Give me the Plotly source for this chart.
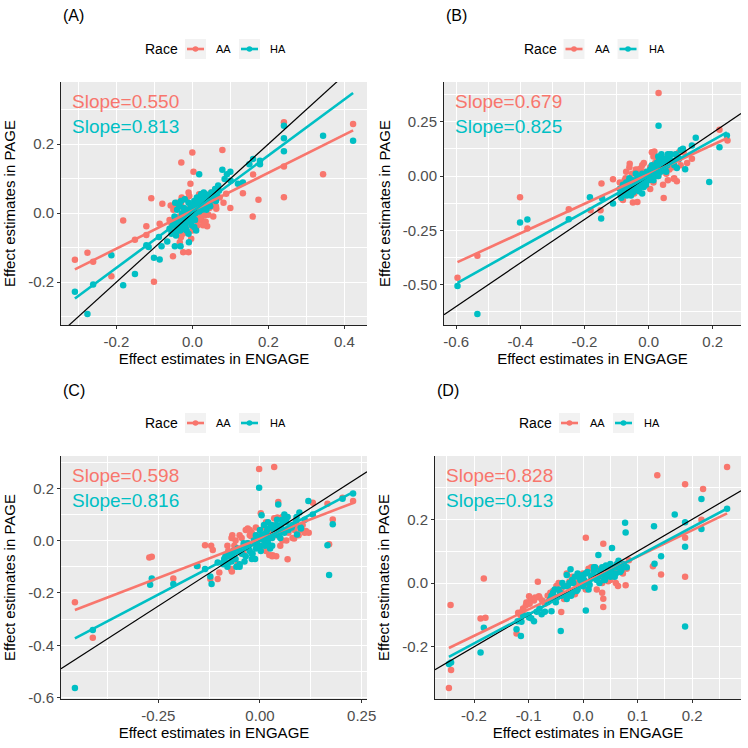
import math

import plotly.graph_objects as go
from plotly.subplots import make_subplots

RED = "#F8766D"
TEAL = "#00BFC4"

# ---- panel A ----
A_AA_x = [-0.309, -0.276, -0.261, -0.213, -0.182, -0.151, -0.121, -0.121, -0.108, -0.101, -0.086, -0.079,
          -0.051, -0.029, -0.057, -0.042, -0.033, -0.024, -0.010, -0.016, 0.000, 0.003, -0.005, -0.003,
          0.013, 0.024, 0.039, 0.032, 0.063, 0.079, 0.100, 0.089, 0.133, 0.159, 0.174, 0.160, 0.241,
          0.241, 0.241, 0.344, 0.423, -0.038,
          -0.06, -0.05, -0.045, -0.04, -0.035, -0.03, -0.025, -0.02, -0.015, -0.01, -0.005, 0.0, 0.005,
          0.01, 0.015, 0.02, 0.025, 0.03, 0.035, 0.04, 0.045, 0.05, 0.055, 0.06, -0.03, -0.01, 0.01,
          0.03, 0.05, 0.02,
          -0.045, -0.038, -0.028, -0.018, -0.008, 0.002, 0.012, 0.022, 0.032, 0.042, 0.052, 0.062, 0.072,
          0.082, -0.055, 0.018, 0.038, -0.022, 0.008, 0.028]
A_AA_y = [-0.135, -0.115, -0.141, -0.183, -0.021, -0.077, -0.038, -0.063, 0.043, -0.199, -0.031, 0.027,
          -0.125, 0.147, 0.022, -0.060, -0.084, -0.113, -0.113, 0.041, 0.176, 0.120, 0.085, -0.074,
          -0.036, -0.021, -0.038, -0.007, 0.013, 0.183, 0.015, 0.056, 0.058, -0.010, 0.039, 0.112, 0.046,
          0.135, 0.263, 0.113, 0.258, 0.017,
          -0.02, 0.01, -0.045, 0.03, -0.01, 0.025, -0.06, 0.04, 0.0, -0.03, 0.02, -0.05, 0.01,
          0.035, -0.02, 0.045, 0.0, 0.03, -0.025, 0.05, 0.015, 0.06, -0.01, 0.04, -0.07, 0.06, -0.04,
          0.055, 0.02, -0.015,
          0.02, -0.02, 0.045, -0.04, 0.05, 0.0, -0.01, 0.02, 0.05, -0.005, 0.035, 0.02, 0.045,
          0.03, -0.03, 0.055, 0.03, 0.01, 0.025, -0.035]
A_HA_x = [-0.309, -0.276, -0.261, -0.213, -0.182, -0.151, -0.115, -0.121, -0.101, -0.086, -0.088, -0.081,
          -0.066, -0.046, -0.031, -0.009, 0.018, 0.079, 0.091, 0.100, 0.085, 0.101, 0.133, 0.120, 0.150,
          0.160, 0.178, 0.178, 0.241, 0.241, 0.241, 0.344, 0.423,
          -0.06, -0.055, -0.05, -0.048, -0.045, -0.042, -0.04, -0.038, -0.035, -0.033, -0.03, -0.028,
          -0.025, -0.022, -0.02, -0.018, -0.015, -0.012, -0.01, -0.008, -0.005, -0.003, 0.0, 0.002, 0.005,
          0.008, 0.01, 0.012, 0.015, 0.018, 0.02, 0.022, 0.025, 0.028, 0.03, 0.033, 0.035, 0.038, 0.04,
          0.045, 0.05, 0.055, 0.06, 0.065, 0.07, -0.045, -0.03, -0.015, 0.005, 0.025,
          -0.052, -0.047, -0.043, -0.037, -0.032, -0.027, -0.023, -0.017, -0.013, -0.007, -0.002, 0.003,
          0.007, 0.013, 0.017, 0.023, 0.027, 0.032, 0.037, 0.042, 0.047, 0.052, 0.058, 0.062, 0.068,
          -0.02, -0.035, 0.01, -0.01, 0.03]
A_HA_y = [-0.228, -0.292, -0.207, -0.122, -0.209, -0.176, -0.098, -0.093, -0.129, -0.134, -0.069, -0.096,
          -0.082, -0.096, -0.096, -0.084, 0.113, 0.126, 0.113, 0.120, 0.099, 0.094, 0.089, 0.085, 0.142,
          0.157, 0.152, 0.142, 0.253, 0.217, 0.179, 0.224, 0.210,
          -0.045, -0.06, -0.03, -0.055, -0.02, -0.04, 0.01, -0.05, -0.025, 0.02, -0.035, -0.01,
          -0.045, 0.015, -0.02, -0.03, 0.005, -0.015, 0.03, -0.005, -0.025, 0.01, 0.02, -0.01, 0.035,
          0.0, 0.015, 0.045, 0.02, 0.005, 0.03, 0.04, 0.01, 0.05, 0.025, 0.035, 0.055, 0.02, 0.045,
          0.03, 0.06, 0.04, 0.07, 0.05, 0.065, 0.03, 0.035, -0.05, -0.04, 0.055,
          -0.035, -0.01, -0.065, -0.03, -0.05, 0.0, -0.028, -0.045, -0.008, 0.012, -0.035, 0.025,
          -0.02, 0.03, 0.01, 0.055, 0.02, 0.045, 0.01, 0.05, 0.02, 0.045, 0.055, 0.035, 0.08,
          0.04, 0.025, -0.05, -0.06, 0.06]

# ---- panel B ----
B_AA_x = [-0.596, -0.534, -0.401, -0.378, -0.249, -0.181, -0.150, -0.147, -0.111, -0.075, -0.059, -0.049,
          0.018, 0.031, 0.047, 0.078, 0.088, 0.093, 0.109, 0.135, 0.221, 0.246,
          -0.09, -0.085, -0.08, -0.07, -0.065, -0.06, -0.05, -0.04, -0.035, -0.03, -0.02, -0.01, 0.0,
          0.01, 0.015, 0.02, 0.03, 0.04, 0.05, 0.06, 0.07, 0.08, 0.085, 0.09, 0.1, -0.045, -0.025,
          0.025, 0.045, 0.065,
          -0.082, -0.072, -0.062, -0.052, -0.042, -0.032, -0.022, -0.012, 0.005, 0.025, 0.035, 0.055,
          0.075, 0.095, 0.12, 0.005, 0.045, 0.065, -0.015, 0.015]
B_AA_y = [-0.468, -0.367, -0.098, -0.242, -0.153, -0.157, -0.157, -0.035, -0.015, -0.021, 0.057, -0.122,
          0.113, 0.382, -0.101, -0.012, -0.024, 0.076, 0.110, 0.080, 0.213, 0.164,
          -0.03, -0.10, -0.11, 0.02, -0.06, 0.04, -0.02, 0.03, -0.12, 0.0, 0.05, -0.04, 0.02,
          0.11, -0.03, 0.06, 0.0, 0.09, 0.03, -0.02, 0.06, -0.01, 0.10, 0.08, 0.05, -0.08, 0.035,
          0.07, -0.04, 0.10,
          -0.05, -0.01, -0.08, 0.01, -0.04, 0.03, -0.02, 0.02, 0.04, 0.0, 0.06, 0.01,
          0.04, 0.11, 0.06, -0.06, 0.075, 0.03, 0.06, 0.09]
B_HA_x = [-0.596, -0.534, -0.401, -0.378, -0.249, -0.183, -0.148, -0.145, -0.111, 0.031, 0.189, 0.221,
          0.147, 0.135, 0.107, 0.114, 0.088, 0.244,
          -0.09, -0.085, -0.08, -0.075, -0.07, -0.065, -0.06, -0.055, -0.05, -0.045, -0.04, -0.035,
          -0.03, -0.025, -0.02, -0.015, -0.01, -0.005, 0.0, 0.005, 0.01, 0.015, 0.02, 0.025, 0.03, 0.035,
          0.04, 0.045, 0.05, 0.055, 0.06, 0.07, 0.08, 0.09, 0.1, -0.06, -0.04, -0.02, 0.01, 0.03, 0.05,
          0.02, 0.04, 0.015, 0.035,
          -0.088, -0.078, -0.068, -0.058, -0.048, -0.038, -0.028, -0.018, -0.008, 0.002, 0.008, 0.012,
          0.018, 0.022, 0.028, 0.032, 0.038, 0.042, 0.048, 0.052, 0.058, 0.065, 0.075, 0.085, 0.095,
          -0.03, 0.0, 0.03, 0.06, -0.07]
B_HA_y = [-0.506, -0.635, -0.214, -0.200, -0.199, -0.098, -0.196, -0.104, -0.127, 0.232, -0.028, 0.133,
          0.176, 0.140, 0.125, 0.031, 0.037, 0.187,
          -0.06, -0.10, -0.04, -0.08, -0.03, -0.07, -0.05, -0.09, -0.02, -0.06, -0.04, 0.0,
          -0.07, -0.03, 0.01, -0.05, -0.02, 0.02, -0.01, 0.03, 0.0, 0.04, 0.02, 0.06, 0.01, 0.05,
          0.08, 0.03, 0.06, 0.02, 0.07, 0.10, 0.05, 0.09, 0.12, -0.01, 0.01, -0.08, 0.05, 0.09, 0.04,
          0.03, 0.10, -0.02, 0.06,
          -0.085, -0.06, -0.09, -0.03, -0.075, -0.02, -0.05, -0.01, -0.04, 0.01, -0.015, 0.03,
          0.0, 0.045, 0.03, 0.07, 0.02, 0.05, 0.08, 0.04, 0.05, 0.08, 0.07, 0.10, 0.08,
          0.0, -0.02, 0.0, 0.10, -0.05]

# ---- panel C ----
C_AA_x = [-0.455, -0.411, -0.272, -0.266, -0.213, -0.153, -0.135, -0.120, -0.116, -0.122, -0.100, -0.104,
          -0.071, -0.069, -0.002, 0.035, 0.002, 0.045, 0.023, 0.031, 0.068, 0.043, 0.130, 0.166, 0.179,
          0.170, 0.203, 0.229, -0.063, -0.030, -0.022, 0.084, 0.113,
          -0.08, -0.075, -0.07, -0.065, -0.06, -0.05, -0.04, -0.035, -0.03, -0.02, -0.01, 0.0, 0.01,
          0.02, 0.03, 0.04, 0.05, 0.06, 0.07, 0.08, 0.09, 0.1, 0.11, -0.055, -0.025, 0.015, 0.035,
          0.055, 0.075, 0.095,
          -0.078, -0.068, -0.058, -0.045, -0.035, -0.025, -0.015, -0.005, 0.005, 0.025, 0.045, 0.065,
          0.085, 0.105, 0.12, 0.04, 0.03, 0.015, -0.01, 0.055]
C_AA_y = [-0.236, -0.371, -0.065, -0.062, -0.145, -0.097, -0.018, -0.020, -0.036, -0.147, -0.122, -0.147,
          -0.109, -0.118, 0.274, 0.281, 0.104, 0.147, -0.055, -0.056, -0.071, 0.088, 0.145, 0.141, 0.081,
          -0.014, 0.164, 0.151, -0.020, 0.046, 0.018, 0.008, 0.037,
          -0.02, -0.06, 0.01, -0.04, 0.0, 0.02, -0.05, 0.04, -0.01, 0.03, 0.0, -0.03, 0.05,
          0.01, 0.06, 0.02, -0.02, 0.07, 0.03, 0.01, 0.06, 0.04, 0.03, -0.09, 0.02, -0.04, 0.085,
          0.0, 0.05, 0.02,
          -0.04, 0.02, -0.03, 0.01, -0.02, 0.04, -0.01, 0.02, -0.02, 0.03, 0.05, 0.0,
          0.04, 0.06, 0.03, -0.06, -0.06, 0.07, 0.05, 0.09]
C_HA_x = [-0.455, -0.411, -0.270, -0.266, -0.213, -0.155, -0.135, -0.122, -0.119, -0.104, -0.002, 0.004,
          0.045, 0.119, 0.097, 0.130, 0.101, 0.091, 0.166, 0.179, 0.170, 0.203, 0.229,
          -0.09, -0.085, -0.08, -0.075, -0.07, -0.065, -0.06, -0.055, -0.05, -0.045, -0.04, -0.035,
          -0.03, -0.025, -0.02, -0.015, -0.01, -0.005, 0.0, 0.005, 0.01, 0.015, 0.02, 0.025, 0.03, 0.035,
          0.04, 0.045, 0.05, 0.055, 0.06, 0.065, 0.07, 0.08, 0.09, 0.1, -0.05, -0.03, -0.01, 0.01, 0.03,
          0.05, 0.02, 0.04, -0.02,
          -0.088, -0.078, -0.068, -0.058, -0.048, -0.038, -0.028, -0.018, -0.008, 0.002, 0.008, 0.012,
          0.018, 0.022, 0.028, 0.032, 0.038, 0.042, 0.048, 0.052, 0.058, 0.068, 0.078, 0.088, 0.11,
          -0.012, 0.0, 0.025, 0.06, -0.04]
C_HA_y = [-0.563, -0.342, -0.169, -0.145, -0.166, -0.097, -0.109, -0.137, -0.166, -0.084, 0.202, 0.097,
          0.138, 0.151, 0.107, 0.100, 0.046, 0.023, -0.018, 0.062, -0.131, 0.160, 0.180,
          -0.09, -0.06, -0.10, -0.05, -0.08, -0.04, -0.07, -0.03, -0.09, -0.05, -0.02, -0.06,
          -0.01, -0.04, -0.07, 0.0, -0.03, 0.01, -0.02, 0.02, 0.0, 0.03, -0.01, 0.05, 0.01, 0.04,
          0.06, 0.02, 0.05, 0.08, 0.03, 0.07, 0.04, 0.06, 0.09, 0.05, -0.10, -0.02, 0.02, 0.06, -0.02,
          0.01, 0.07, 0.03, -0.05,
          -0.07, -0.085, -0.06, -0.10, -0.04, -0.08, -0.03, -0.05, -0.01, -0.04, 0.02, -0.02,
          0.04, 0.01, 0.06, 0.02, 0.04, 0.08, 0.03, 0.06, 0.04, 0.09, 0.05, 0.07, 0.08,
          -0.07, 0.04, -0.03, 0.10, -0.01]

# ---- panel D ----
D_AA_x = [-0.246, -0.242, -0.243, -0.188, -0.179, -0.182, -0.122, -0.119, -0.110, -0.099, -0.104, -0.083,
          -0.081, -0.040, 0.005, 0.037, 0.037, 0.037, 0.078, 0.084, 0.128, 0.143, 0.136, 0.187, 0.187,
          0.187, 0.220, 0.217, 0.264, -0.058, -0.049, -0.012, 0.046, 0.064, 0.073,
          -0.115, -0.11, -0.105, -0.1, -0.095, -0.09, -0.08, -0.07, -0.06, -0.05, -0.045, -0.04, -0.03,
          -0.02, -0.01, 0.0, 0.01, 0.02, 0.03, 0.04, 0.05, 0.06, -0.035, -0.015, 0.015, 0.035, 0.055,
          0.025,
          -0.112, -0.098, -0.088, -0.075, -0.065, -0.055, -0.04, -0.025, -0.005, 0.005, 0.015, 0.025,
          0.035, 0.045, 0.06, 0.07, -0.03, 0.01, -0.015, 0.08]
D_AA_y = [-0.329, -0.273, -0.069, -0.111, -0.109, 0.014, -0.158, -0.093, -0.080, -0.041, -0.061, 0.004,
          -0.041, -0.091, 0.142, 0.123, -0.049, -0.075, -0.007, 0.072, 0.053, 0.027, 0.338, 0.310, 0.142,
          0.020, 0.295, 0.199, 0.364, -0.030, -0.009, 0.001, 0.006, -0.009, 0.030,
          -0.10, -0.085, -0.07, -0.06, -0.05, -0.055, -0.045, -0.065, -0.03, -0.045, 0.0, -0.02, -0.01,
          0.02, 0.0, 0.03, -0.01, 0.04, 0.02, 0.015, 0.01, 0.035, -0.05, -0.035, 0.05, -0.03, 0.02,
          -0.02,
          -0.09, -0.065, -0.045, -0.055, -0.04, -0.025, -0.04, 0.005, 0.015, -0.02, 0.02, 0.045,
          0.0, 0.03, 0.0, 0.04, 0.03, 0.045, -0.02, 0.045]
D_HA_x = [-0.246, -0.242, -0.188, -0.182, -0.122, -0.114, -0.113, -0.099, -0.076, -0.058, -0.041, 0.005,
          -0.023, 0.028, 0.053, 0.077, 0.078, 0.130, 0.131, 0.131, 0.143, 0.168, 0.187, 0.187, 0.187,
          0.217, 0.217, 0.264,
          -0.06, -0.055, -0.05, -0.045, -0.04, -0.035, -0.03, -0.025, -0.02, -0.015, -0.01, -0.005, 0.0,
          0.005, 0.01, 0.015, 0.02, 0.025, 0.03, 0.035, 0.04, 0.045, 0.05, 0.055, 0.06, 0.065, 0.07,
          0.075, 0.08, -0.03, -0.01, 0.01, 0.03, 0.05, 0.02, 0.04, -0.02, 0.0, 0.06, -0.1, -0.095, -0.09,
          -0.085, -0.08, -0.07,
          -0.058, -0.052, -0.048, -0.042, -0.038, -0.032, -0.028, -0.022, -0.018, -0.012, -0.008, -0.002,
          0.002, 0.008, 0.012, 0.018, 0.022, 0.028, 0.032, 0.038, 0.042, 0.048, 0.052, 0.058, 0.062,
          0.068, 0.072, -0.065, -0.11, -0.12]
D_HA_y = [-0.254, -0.249, -0.218, -0.140, -0.145, -0.166, -0.121, -0.108, -0.098, -0.088, -0.150, -0.086,
          0.043, 0.088, 0.110, 0.189, 0.159, 0.178, 0.061, -0.015, 0.084, 0.215, 0.191, 0.114, -0.136,
          0.264, 0.170, 0.233,
          -0.05, -0.03, -0.06, -0.02, -0.04, -0.01, -0.05, 0.0, -0.03, 0.02, -0.02, 0.01, -0.01,
          0.03, 0.0, 0.02, 0.04, 0.01, 0.03, 0.05, 0.02, 0.04, 0.06, 0.03, 0.05, 0.07, 0.04,
          0.06, 0.05, 0.025, 0.03, -0.02, 0.0, 0.02, 0.05, 0.01, 0.01, 0.025, 0.03, -0.10, -0.11, -0.12,
          -0.09, -0.08, -0.09,
          -0.04, -0.02, -0.045, -0.03, 0.0, -0.035, -0.01, -0.04, 0.0, -0.025, 0.02, -0.005,
          0.01, 0.035, -0.005, 0.025, 0.05, 0.02, 0.04, 0.01, 0.055, 0.03, 0.045, 0.02, 0.06,
          0.035, 0.05, -0.06, -0.10, -0.12]

# fitted lines (slope shown in panel, intercept)
SLOPES_AA = [0.550, 0.679, 0.598, 0.828]
SLOPES_HA = [0.813, 0.825, 0.816, 0.913]
INTERCEPTS_AA = [0.007, 0.008, 0.007, 0.000]
INTERCEPTS_HA = [0.004, 0.000, -0.002, -0.007]

PANEL_LABELS = ["(A)", "(B)", "(C)", "(D)"]
RACES = ["AA", "HA"]
X_STEPS = [0.2, 0.2, 0.25, 0.1]
Y_STEPS = [0.2, 0.25, 0.2, 0.2]
X_FMT = ["{:.1f}", "{:.1f}", "{:.2f}", "{:.1f}"]
Y_FMT = ["{:.1f}", "{:.2f}", "{:.1f}", "{:.1f}"]

panels = [
    (A_AA_x, A_AA_y, A_HA_x, A_HA_y),
    (B_AA_x, B_AA_y, B_HA_x, B_HA_y),
    (C_AA_x, C_AA_y, C_HA_x, C_HA_y),
    (D_AA_x, D_AA_y, D_HA_x, D_HA_y),
]

W = 748
# plot-area pixel boxes: left, right, top, bottom
boxes = [(61, 367, 82, 325), (444, 741, 82, 325), (61, 367, 456, 699), (435, 741, 456, 699)]

FONT = "Liberation Sans, Arial, sans-serif"


def tick_list(lo, hi, step, fmt):
    vals, text = [], []
    k = math.ceil(lo / step - 1e-9)
    while k * step <= hi + 1e-9:
        v = round(k * step, 6)
        vals.append(v)
        text.append(fmt.format(abs(v) if abs(v) < 1e-9 else v))
        k += 1
    return vals, text


def px(x):
    return x / W


def py(y):
    return 1 - y / W


fig = make_subplots(rows=2, cols=2)
shapes = []

for i, (ax_, ay_, hx_, hy_) in enumerate(panels):
    row, col = i // 2 + 1, i % 2 + 1
    fits = [(ax_, SLOPES_AA[i], INTERCEPTS_AA[i], RED), (hx_, SLOPES_HA[i], INTERCEPTS_HA[i], TEAL)]

    fit_x, fit_y = [], []
    for xs, b, a, c in fits:
        lx = [min(xs), max(xs)]
        fit_x.append(lx)
        fit_y.append([a + b * v for v in lx])

    allx = ax_ + hx_
    ally = ay_ + hy_ + fit_y[0] + fit_y[1]
    xlo, xhi = min(allx), max(allx)
    ylo, yhi = min(ally), max(ally)
    xpad, ypad = 0.05 * (xhi - xlo), 0.05 * (yhi - ylo)
    xr = [xlo - xpad, xhi + xpad]
    yr = [ylo - ypad, yhi + ypad]

    fig.add_trace(go.Scatter(x=ax_, y=ay_, mode="markers", marker=dict(color=RED, size=6.5),
                             showlegend=False, hoverinfo="skip"), row=row, col=col)
    fig.add_trace(go.Scatter(x=hx_, y=hy_, mode="markers", marker=dict(color=TEAL, size=6.5),
                             showlegend=False, hoverinfo="skip"), row=row, col=col)
    fig.add_trace(go.Scatter(x=xr, y=xr, mode="lines", line=dict(color="black", width=1.2),
                             showlegend=False, hoverinfo="skip"), row=row, col=col)
    for (xs, b, a, c), lx, ly in zip(fits, fit_x, fit_y):
        fig.add_trace(go.Scatter(x=lx, y=ly, mode="lines", line=dict(color=c, width=2.6),
                                 showlegend=False, hoverinfo="skip"), row=row, col=col)

    l, r, t, b = boxes[i]
    xv, xt = tick_list(xr[0], xr[1], X_STEPS[i], X_FMT[i])
    yv, yt = tick_list(yr[0], yr[1], Y_STEPS[i], Y_FMT[i])
    sfx = "" if i == 0 else str(i + 1)
    axis_common = dict(showgrid=True, gridcolor="white", gridwidth=1.1, zeroline=False, automargin=False,
                       showline=True, linecolor="#222222", linewidth=1, ticks="outside",
                       ticklen=3, tickcolor="#333333", tickfont=dict(size=15, color="#4D4D4D"),
                       minor=dict(showgrid=True, gridcolor="white", gridwidth=0.5))
    fig.update_layout(**{
        f"xaxis{sfx}": dict(domain=[px(l), px(r)], range=xr, tickvals=xv, ticktext=xt,
                            title=dict(text="Effect estimates in ENGAGE", font=dict(size=15, color="black"),
                                       standoff=2),
                            minor_dtick=X_STEPS[i] / 2, minor_tick0=0, **axis_common),
        f"yaxis{sfx}": dict(domain=[py(b), py(t)], range=yr, tickvals=yv, ticktext=yt,
                            title=dict(text="Effect estimates in PAGE", font=dict(size=15, color="black"),
                                       standoff=8),
                            minor_dtick=Y_STEPS[i] / 2, minor_tick0=0, **axis_common),
    })

    # legend drawn like ggplot's: title, grey keys with line and dot, labels
    cx = (l + r) / 2
    ly0 = t - 33
    fig.add_annotation(x=px(cx - 71), y=py(ly0), xref="paper", yref="paper", text="Race",
                       showarrow=False, xanchor="left", yanchor="middle", font=dict(size=14, color="black"))
    for k, (name, c) in enumerate(zip(RACES, [RED, TEAL])):
        k0 = cx - 29 + 54 * k
        shapes.append(dict(type="rect", xref="paper", yref="paper", x0=px(k0), x1=px(k0 + 21),
                           y0=py(ly0 + 10), y1=py(ly0 - 10), fillcolor="#F2F2F2", line=dict(width=0),
                           layer="below"))
        shapes.append(dict(type="line", xref="paper", yref="paper", x0=px(k0 + 2), x1=px(k0 + 19),
                           y0=py(ly0), y1=py(ly0), line=dict(color=c, width=2.6)))
        shapes.append(dict(type="circle", xref="paper", yref="paper", x0=px(k0 + 7.7), x1=px(k0 + 13.3),
                           y0=py(ly0 + 2.8), y1=py(ly0 - 2.8), fillcolor=c, line=dict(width=0)))
        fig.add_annotation(x=px(k0 + 29), y=py(ly0), xref="paper", yref="paper", text=name,
                           showarrow=False, xanchor="left", yanchor="middle",
                           font=dict(size=11, color="black"))

    fig.add_annotation(x=px(l), y=py(t - 66), xref="paper", yref="paper",
                       text=PANEL_LABELS[i], showarrow=False, xanchor="left", yanchor="middle",
                       font=dict(size=16, color="black"))
    fig.add_annotation(x=0.03, y=0.92, xref=f"x{sfx} domain", yref=f"y{sfx} domain",
                       text=f"Slope={SLOPES_AA[i]:.3f}", showarrow=False, xanchor="left",
                       yanchor="middle", font=dict(size=19, color=RED))
    fig.add_annotation(x=0.03, y=0.815, xref=f"x{sfx} domain", yref=f"y{sfx} domain",
                       text=f"Slope={SLOPES_HA[i]:.3f}", showarrow=False, xanchor="left",
                       yanchor="middle", font=dict(size=19, color=TEAL))

fig.update_layout(
    width=748, height=748, margin=dict(l=0, r=0, t=0, b=0),
    paper_bgcolor="white", plot_bgcolor="#EBEBEB", showlegend=False,
    font=dict(family=FONT, color="black"), shapes=shapes,
)

# the page's default body margin would shift the 748px figure by 8px
fig.write_html("out.html", config={"displayModeBar": False},
               post_script="document.body.style.margin = '0';")
